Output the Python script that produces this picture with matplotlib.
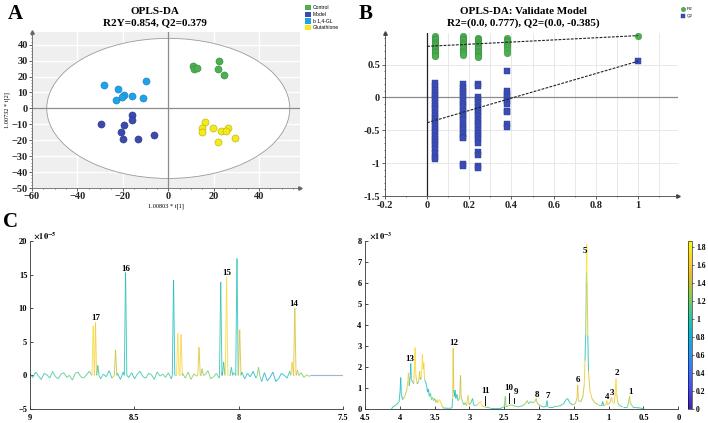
import numpy as np
import matplotlib
matplotlib.use('Agg')
import matplotlib.pyplot as plt
from matplotlib.collections import LineCollection
from matplotlib.colors import LinearSegmentedColormap, Normalize
from matplotlib.patches import Ellipse, Rectangle
from matplotlib.lines import Line2D
import matplotlib.cm as cm

plt.rcParams['font.family'] = ['Liberation Serif', 'DejaVu Serif']
plt.rcParams['font.weight'] = 'bold'
plt.rcParams['mathtext.fontset'] = 'stix'

# ---------------- Panel A data (OPLS-DA scores) ----------------
groups = ['Control', 'Model', 'b 1,4-GL', 'Glutathione']
group_colors = ['#4caf50', '#3a4aad', '#1ea2e8', '#f2ea1a']
group_edges = ['#3a8a3d', '#2a3585', '#1680b8', '#b8ae10']
control_t1 = [11, 11.5, 12.5, 22.5, 22, 24.5]
control_t2 = [26.5, 25, 25.5, 29.5, 24.5, 21]
model_t1 = [-29.5, -16, -16, -19.5, -21, -20, -13.5, -6.5]
model_t2 = [-9.5, -4, -7.5, -10.5, -15, -19.5, -19, -17]
gl_t1 = [-28.5, -22, -19.5, -20.5, -23, -16, -11, -10]
gl_t2 = [14.5, 12.5, 8.5, 7, 5.5, 7.5, 6.5, 17.5]
glu_t1 = [16, 15, 15, 19.5, 23, 26.5, 25.5, 22, 29.5]
glu_t2 = [-8.5, -12, -15, -12.5, -14.5, -12, -14.5, -21, -18.5]
ellipse_t1, ellipse_t2 = 53.5, 44.0

# ---------------- Panel B data (permutation test) ----------------
perm_x = [0.035, 0.17, 0.24, 0.38]
r2_perm = [
    [0.93, 0.91, 0.89, 0.87, 0.85, 0.83, 0.81, 0.79, 0.77, 0.75, 0.73, 0.71, 0.69, 0.67, 0.65, 0.63],
    [0.93, 0.91, 0.89, 0.87, 0.85, 0.83, 0.81, 0.79, 0.77, 0.75, 0.73, 0.71, 0.69, 0.67, 0.65],
    [0.91, 0.89, 0.87, 0.85, 0.83, 0.81, 0.79, 0.77, 0.75, 0.73, 0.71, 0.69, 0.67, 0.65, 0.63, 0.61],
    [0.90, 0.88, 0.86, 0.84, 0.82, 0.80, 0.76, 0.72, 0.68],
]
q2_perm = [
    [0.22, 0.17, 0.12, 0.07, 0.02, -0.03, -0.08, -0.13, -0.18, -0.23, -0.28, -0.33, -0.38, -0.43,
     -0.48, -0.53, -0.58, -0.63, -0.68, -0.73, -0.78, -0.85, -0.9, -0.93],
    [0.2, 0.15, 0.1, 0.05, 0.0, -0.05, -0.1, -0.15, -0.2, -0.25, -0.3, -0.35, -0.4, -0.45, -0.5,
     -0.55, -0.6, -0.62, -1.01, -1.05],
    [0.2, 0.17, 0.01, -0.04, -0.09, -0.14, -0.19, -0.24, -0.29, -0.34, -0.39, -0.44, -0.49, -0.54,
     -0.59, -0.64, -0.7, -0.83, -0.88, -1.05, -1.08],
    [0.4, 0.1, 0.05, 0.0, -0.05, -0.1, -0.2, -0.22, -0.4, -0.45],
]
r2_orig, q2_orig = 0.94, 0.55
r2_intercept, q2_intercept = 0.777, -0.385

# ---------------- Panel C data (colored loading spectra) ----------------
left_noise = [0.2, -0.3, 0.5, -0.1, -0.6, 0.3, 0.1, -0.4, 0.6, -0.2,
              -0.5, 0.2, 0.4, -0.3, 0.0, -0.7, 0.3, 0.5, -0.2, -0.4,
              0.1, 0.6, -0.3, -0.1, 0.4, -0.5, 0.2, -0.2, 0.7, -0.4,
              -0.1, 0.3, -0.6, 0.5, 0.0, -0.3, 0.4, -0.5, 0.2, 0.6,
              -0.2, -0.4, 0.3, 0.1, -0.6, 0.5, -0.1, 0.2, -0.3, 0.4,
              -0.5, 0.6, -0.2, 0.0, 0.3, -0.4, 0.5, -0.6, 0.2, -0.1,
              0.4, -0.3, 0.1, 0.7, -0.5, -0.2, 0.3, -0.4, 0.5, 0.0,
              -0.6, 0.2, 0.4, -0.3, -0.1, 0.5, -0.5, 0.3, -0.2, 0.6,
              -0.4, 0.1, -0.9, 0.4, -0.8, -0.3, 0.5, -0.9, -0.5, 0.3,
              0.0, -0.4, 0.6, -0.2, 0.2, -0.6, 0.4, -0.3, 0.1, -0.2]
left_noise_c_ppm = [9.0, 8.8, 8.6, 8.4, 8.2, 8.0, 7.85, 7.75, 7.66]
left_noise_c = [0.95, 1.15, 0.95, 1.05, 1.3, 1.0, 0.7, 0.95, 1.4]
left_peak_ppm = [8.697, 8.686, 8.675, 8.590, 8.542, 8.312, 8.292, 8.276, 8.190, 8.175,
                 8.086, 8.072, 8.058, 8.035, 8.008, 7.995, 7.905, 7.744, 7.731, 7.718]
left_peak_h = [7.4, 7.9, 1.5, 3.8, 15.3, 14.2, 6.3, 6.1, 4.2, 1.0,
               13.9, 2.0, 14.6, 1.2, 17.4, 6.8, 1.2, 2.0, 10.0, 0.8]
left_peak_c = [1.7, 1.6, 1.0, 1.4, 0.95, 0.9, 1.7, 1.65, 1.5, 1.3,
               0.95, 1.0, 1.7, 1.0, 0.95, 1.45, 1.2, 1.6, 1.45, 1.4]
left_labels = ['17', '16', '15', '14']
left_label_ppm = [8.684, 8.540, 8.058, 7.735]
left_label_y = [8.5, 15.8, 15.3, 10.6]

right_ppm = [4.12, 4.10, 4.05, 4.01, 3.995, 3.987, 3.978, 3.96, 3.93, 3.90, 3.885, 3.877, 3.865,
             3.85, 3.843, 3.835, 3.80, 3.79, 3.78, 3.77, 3.75, 3.73, 3.715, 3.705, 3.69, 3.675,
             3.665, 3.655, 3.645, 3.63, 3.615, 3.60, 3.59, 3.575, 3.56, 3.545, 3.53, 3.515, 3.50,
             3.48, 3.465, 3.45, 3.43, 3.415, 3.40, 3.38, 3.30, 3.25, 3.24, 3.233, 3.226, 3.215,
             3.207, 3.195, 3.18, 3.165, 3.14, 3.128, 3.12, 3.10, 3.08, 3.06, 3.04, 3.02, 3.005,
             2.98, 2.955, 2.94, 2.92, 2.89, 2.86, 2.84, 2.82, 2.78, 2.70, 2.55, 2.50, 2.485, 2.475,
             2.44, 2.40, 2.36, 2.30, 2.24, 2.20, 2.17, 2.15, 2.12, 2.09, 2.06, 2.04, 2.03, 2.00,
             1.95, 1.90, 1.885, 1.875, 1.80, 1.70, 1.65, 1.61, 1.59, 1.56, 1.52, 1.48, 1.455,
             1.445, 1.435, 1.40, 1.37, 1.35, 1.34, 1.33, 1.32, 1.315, 1.31, 1.30, 1.29, 1.27,
             1.24, 1.20, 1.15, 1.10, 1.085, 1.075, 1.04, 1.027, 1.015, 0.98, 0.965, 0.955, 0.945,
             0.92, 0.905, 0.895, 0.885, 0.87, 0.84, 0.80, 0.73, 0.71, 0.70, 0.69, 0.65, 0.55, 0.49]
right_int = [0.0, 0.1, 0.2, 0.35, 0.9, 1.5, 0.7, 0.45, 0.6, 0.9, 1.3, 1.72, 1.1,
             1.6, 2.17, 1.4, 1.2, 1.9, 2.92, 1.6, 1.2, 1.3, 1.8, 1.4, 1.5, 2.6,
             1.9, 2.2, 1.4, 1.3, 1.1, 0.8, 0.95, 0.6, 0.75, 0.45, 0.55, 0.4, 0.5,
             0.3, 0.45, 0.3, 0.45, 0.35, 0.2, 0.05, 0.03, 0.05, 0.5, 2.9, 0.9, 0.6,
             0.9, 0.5, 0.7, 0.4, 0.5, 1.6, 0.6, 0.35, 0.2, 0.3, 0.15, 0.65, 0.2,
             0.3, 0.5, 0.2, 0.15, 0.2, 0.3, 0.35, 0.15, 0.1, 0.05, 0.05, 0.1, 0.6, 0.1,
             0.15, 0.2, 0.15, 0.1, 0.15, 0.25, 0.4, 0.25, 0.35, 0.3, 0.35, 0.5, 0.3, 0.2,
             0.1, 0.12, 0.4, 0.1, 0.1, 0.15, 0.25, 0.45, 0.5, 0.3, 0.2, 0.25, 0.5,
             1.15, 0.4, 0.35, 0.6, 1.2, 2.3, 3.6, 6.5, 7.85, 6.0, 3.5, 1.8, 0.9,
             0.5, 0.3, 0.2, 0.2, 0.35, 0.15, 0.2, 0.4, 0.2, 0.3, 0.5, 0.55, 0.3,
             0.3, 0.8, 1.45, 0.7, 0.3, 0.15, 0.1, 0.1, 0.4, 0.6, 0.3, 0.08, 0.05, 0.0]
right_c = [0.9, 0.9, 1.0, 1.0, 0.95, 0.9, 0.95, 1.1, 1.2, 1.4, 1.5, 1.6, 1.2,
           0.95, 0.9, 1.0, 1.4, 1.6, 1.7, 1.5, 1.3, 1.0, 1.5, 1.3, 1.0, 1.7,
           1.5, 1.6, 1.0, 0.9, 0.9, 0.95, 0.9, 1.0, 1.1, 1.0, 1.2, 1.3, 1.2,
           1.4, 1.6, 1.6, 1.7, 1.6, 1.5, 1.0, 1.0, 1.0, 1.0, 1.5, 0.9, 0.95,
           0.9, 1.0, 1.0, 1.1, 1.2, 1.4, 1.3, 1.1, 1.0, 1.2, 1.0, 1.6, 1.4,
           1.1, 1.0, 1.0, 1.1, 1.3, 1.6, 1.7, 1.5, 1.2, 1.0, 1.0, 1.1, 1.2, 1.1,
           1.2, 1.3, 1.2, 1.0, 1.1, 1.2, 1.3, 1.2, 1.1, 1.2, 1.3, 1.4, 1.3, 1.1,
           1.0, 1.0, 1.0, 1.0, 1.0, 1.1, 1.1, 1.0, 0.95, 1.0, 1.1, 1.2, 1.4,
           1.5, 1.3, 1.2, 1.3, 1.4, 1.6, 1.0, 1.2, 1.75, 1.5, 0.95, 1.5, 1.6,
           1.4, 1.3, 1.2, 1.0, 0.8, 1.0, 1.4, 1.6, 1.4, 1.4, 1.5, 1.6, 1.4,
           1.2, 1.5, 1.7, 1.5, 1.2, 1.1, 1.0, 1.1, 1.3, 1.4, 1.3, 1.0, 1.0, 1.0]
right_labels = ['13', '12', '11', '10', '9', '8', '7', '6', '5', '4', '3', '2', '1']
right_label_ppm = [3.853, 3.231, 2.776, 2.441, 2.33, 2.024, 1.88, 1.444, 1.339, 1.027, 0.947, 0.884, 0.693]
right_label_y = [2.38, 3.13, 0.87, 1.02, 0.79, 0.67, 0.63, 1.38, 7.52, 0.59, 0.75, 1.7, 0.82]
bar_ppm = [2.776, 2.43, 2.36]
bar_lo = [0.2, 0.27, 0.27]
bar_hi = [0.6, 0.75, 0.51]

# parula-like colormap
parula_pts = [(0.2422, 0.1504, 0.6603), (0.2803, 0.2782, 0.9221), (0.2440, 0.4358, 0.9988),
              (0.1540, 0.5902, 0.9218), (0.0297, 0.7082, 0.8163), (0.1938, 0.7758, 0.6251),
              (0.5044, 0.7993, 0.3480), (0.8634, 0.7406, 0.1596), (0.9892, 0.8136, 0.1885),
              (0.9769, 0.9839, 0.0805)]
parula = LinearSegmentedColormap.from_list('parula', parula_pts)
cnorm = Normalize(vmin=0, vmax=1.87)

W, H = 708, 423
fig = plt.figure(figsize=(W / 100, H / 100), dpi=100)


def frac(x0, y0, x1, y1):
    return [x0 / W, 1 - y1 / H, (x1 - x0) / W, (y1 - y0) / H]


# ================= Panel A =================
axA = fig.add_axes(frac(32, 32, 300, 188))
axA.set_facecolor('#efefef')
axA.set_xlim(-60, 58)
axA.set_ylim(-50, 48)
for gx in [-40, -20, 20, 40]:
    axA.axvline(gx, color='white', lw=0.9, zorder=0.5)
for gy in range(-40, 50, 10):
    axA.axhline(gy, color='white', lw=0.9, zorder=0.5)
axA.add_patch(Ellipse((0, 0), 2 * ellipse_t1, 2 * ellipse_t2, facecolor='white',
                      edgecolor='#9a9a9a', lw=0.6, zorder=1))
axA.axhline(0, color='#8c8c8c', lw=0.9, zorder=2)
axA.axvline(0, color='#8c8c8c', lw=0.9, zorder=2)
for (t1, t2), fc, ec in zip([(control_t1, control_t2), (model_t1, model_t2), (gl_t1, gl_t2),
                             (glu_t1, glu_t2)], group_colors, group_edges):
    axA.scatter(t1, t2, s=26, c=fc, edgecolors=ec, linewidths=0.4, zorder=3)
axA.set_xticks(range(-60, 41, 20))
axA.set_yticks(range(-50, 41, 10))
axA.set_xticks(range(-60, 58, 5), minor=True)
axA.set_yticks(range(-50, 48, 2), minor=True)
axA.tick_params(axis='both', labelsize=7.5, length=2, width=0.5, pad=1, colors='#222')
axA.tick_params(which='minor', length=1, width=0.4)
for s in ['top', 'right']:
    axA.spines[s].set_visible(False)
for s in ['left', 'bottom']:
    axA.spines[s].set_color('#666')
    axA.spines[s].set_linewidth(0.6)
axA.plot(0, 1, marker='^', color='#666', ms=2.5, transform=axA.transAxes, clip_on=False)
axA.plot(1, 0, marker='>', color='#666', ms=2.5, transform=axA.transAxes, clip_on=False)
axA.set_xlabel('1.00803 * t[1]', fontsize=4.5, labelpad=2)
axA.set_ylabel('1.00732 * t[2]', fontsize=4.5, labelpad=1)
fig.text(155 / W, 1 - 11 / H, 'OPLS-DA', ha='center', va='center', fontsize=8)
fig.text(155 / W, 1 - 23 / H, 'R2Y=0.854, Q2=0.379', ha='center', va='center', fontsize=8)
# legend A
for i, (g, fc) in enumerate(zip(groups, group_colors)):
    yc = 7.5 + i * 6.8
    fig.add_artist(Rectangle((305 / W, 1 - (yc + 2.6) / H), 5.5 / W, 5.2 / H,
                             facecolor=fc, edgecolor='none', transform=fig.transFigure))
    fig.text(313 / W, 1 - yc / H, g, fontsize=3.6, va='center', ha='left',
             family=['Liberation Sans', 'DejaVu Sans'], weight='normal')

# ================= Panel B =================
axB = fig.add_axes(frac(385, 33, 678, 196))
axB.set_xlim(-0.2, 1.19)
axB.set_ylim(-1.5, 0.98)
for gx in np.arange(0.1, 1.15, 0.1):
    axB.axvline(gx, color='#e4e4e4', lw=0.6, zorder=0.5)
for gy in [0.5, -0.5, -1.0]:
    axB.axhline(gy, color='#e4e4e4', lw=0.6, zorder=0.5)
axB.axhline(0, color='#8c8c8c', lw=0.9, zorder=1)
axB.axvline(0, color='#222', lw=0.9, zorder=1)
for xv, r2c, q2c in zip(perm_x, r2_perm, q2_perm):
    axB.plot([xv] * len(q2c), q2c, ls='none', marker='s', ms=4.2, mfc='#3b4db4',
             mec='#2c3a90', mew=0.3, zorder=3)
    axB.plot([xv] * len(r2c), r2c, ls='none', marker='o', ms=4.8, mfc='#4cb050',
             mec='#389040', mew=0.3, zorder=3)
axB.plot([1], [q2_orig], ls='none', marker='s', ms=4.2, mfc='#3b4db4', mec='#2c3a90', mew=0.3, zorder=3)
axB.plot([1], [r2_orig], ls='none', marker='o', ms=4.8, mfc='#4cb050', mec='#389040', mew=0.3, zorder=3)
axB.plot([0, 1], [r2_intercept, r2_orig], color='#222', lw=0.8, dashes=(2.5, 1.2), zorder=4)
axB.plot([0, 1], [q2_intercept, q2_orig], color='#222', lw=0.8, dashes=(2.5, 1.2), zorder=4)
axB.set_xticks([-0.2, 0, 0.2, 0.4, 0.6, 0.8, 1])
axB.set_xticklabels(['-0.2', '0', '0.2', '0.4', '0.6', '0.8', '1'])
axB.set_yticks([-1.5, -1, -0.5, 0, 0.5])
axB.set_yticklabels(['-1.5', '-1', '-0.5', '0', '0.5'])
axB.set_xticks(np.arange(-0.2, 1.15, 0.1), minor=True)
axB.set_yticks(np.arange(-1.5, 0.95, 0.1), minor=True)
axB.tick_params(axis='both', labelsize=7.5, length=2, width=0.5, pad=1.5, colors='#222')
axB.tick_params(which='minor', length=1, width=0.4)
for s in ['top', 'right']:
    axB.spines[s].set_visible(False)
for s in ['left', 'bottom']:
    axB.spines[s].set_color('#444')
    axB.spines[s].set_linewidth(0.6)
axB.plot(0, 1, marker='^', color='#444', ms=2.5, transform=axB.transAxes, clip_on=False)
axB.plot(1, 0, marker='>', color='#444', ms=2.5, transform=axB.transAxes, clip_on=False)
fig.text(523 / W, 1 - 11 / H, 'OPLS-DA: Validate Model', ha='center', va='center', fontsize=8)
fig.text(523 / W, 1 - 23 / H, 'R2=(0.0, 0.777), Q2=(0.0, -0.385)', ha='center', va='center', fontsize=8)
# legend B
fig.add_artist(Line2D([683 / W], [1 - 9.5 / H], marker='o', ms=3.2, mfc='#4cb050', mec='#389040',
                      mew=0.3, ls='none', transform=fig.transFigure))
fig.add_artist(Line2D([683 / W], [1 - 16.5 / H], marker='s', ms=3.0, mfc='#3b4db4', mec='#2c3a90',
                      mew=0.3, ls='none', transform=fig.transFigure))
fig.text(687 / W, 1 - 9.5 / H, 'R2', fontsize=3.2, va='center', family=['Liberation Sans'], weight='normal')
fig.text(687 / W, 1 - 16.5 / H, 'Q2', fontsize=3.2, va='center', family=['Liberation Sans'], weight='normal')


# ================= Panel C =================
def colored_line(ax, ppm, inten, cval, lw=0.7):
    ppm = np.asarray(ppm, float)
    inten = np.asarray(inten, float)
    cval = np.asarray(cval, float)
    pts = np.column_stack([ppm, inten])
    segs = np.stack([pts[:-1], pts[1:]], axis=1)
    seg_c = np.where(inten[:-1] >= inten[1:], cval[:-1], cval[1:])
    lc = LineCollection(segs, cmap=parula, norm=cnorm, linewidths=lw, alpha=0.8)
    lc.set_array(seg_c)
    ax.add_collection(lc)


def style_c(ax):
    for s in ['top', 'right']:
        ax.spines[s].set_visible(False)
    for s in ['left', 'bottom']:
        ax.spines[s].set_color('#333')
        ax.spines[s].set_linewidth(0.6)
    ax.tick_params(axis='both', labelsize=6, length=2.5, width=0.5, direction='in', pad=2)
    ax.tick_params(axis='x', pad=3.5)


# left spectrum
axL = fig.add_axes(frac(30, 241, 343, 409))
axL.set_xlim(9, 7.5)
axL.set_ylim(-5, 20)
hw = 0.006
base_ppm = np.linspace(9.0, 7.66, len(left_noise))
keep = np.ones(len(base_ppm), bool)
for p in left_peak_ppm:
    keep &= np.abs(base_ppm - p) > hw
base_c = np.interp(base_ppm[::-1], left_noise_c_ppm[::-1], left_noise_c[::-1])[::-1]
all_ppm = list(base_ppm[keep])
all_int = list(np.asarray(left_noise)[keep])
all_c = list(base_c[keep])
for p, h, c in zip(left_peak_ppm, left_peak_h, left_peak_c):
    all_ppm += [p + hw, p, p - hw]
    all_int += [0.0, h, 0.0]
    all_c += [c, c, c]
order = np.argsort(all_ppm)[::-1]
axL.plot([7.66, 7.5], [0, 0], color='#a2b6d4', lw=0.8)
colored_line(axL, np.array(all_ppm)[order], np.array(all_int)[order], np.array(all_c)[order])
for lab, p, yv in zip(left_labels, left_label_ppm, left_label_y):
    axL.text(p, yv, lab, ha='center', va='center', fontsize=6.5)
axL.set_xticks([9, 8.5, 8, 7.5])
axL.set_xticklabels(['9', '8.5', '8', '7.5'])
axL.set_yticks([-5, 0, 5, 10, 15, 20])
style_c(axL)
axL.text(0.008, 1.0, r'$\times10^{-5}$', transform=axL.transAxes, fontsize=6, ha='left', va='bottom')

# right spectrum
axR = fig.add_axes(frac(365, 241, 678.3, 409))
axR.set_xlim(4.5, 0)
axR.set_ylim(0, 8)
colored_line(axR, right_ppm, right_int, right_c, lw=0.75)
for p, lo, hi in zip(bar_ppm, bar_lo, bar_hi):
    axR.plot([p, p], [lo, hi], color='#111', lw=0.7)
for lab, p, yv in zip(right_labels, right_label_ppm, right_label_y):
    axR.text(p, yv, lab, ha='center', va='center', fontsize=6.5)
axR.set_xticks([4.5, 4, 3.5, 3, 2.5, 2, 1.5, 1, 0.5, 0])
axR.set_xticklabels(['4.5', '4', '3.5', '3', '2.5', '2', '1.5', '1', '0.5', '0'])
axR.set_yticks(range(0, 9))
style_c(axR)
axR.tick_params(axis='y', pad=2.5)
axR.text(0.012, 1.0, r'$\times10^{-3}$', transform=axR.transAxes, fontsize=6, ha='left', va='bottom')

# colorbar
cax = fig.add_axes(frac(688, 241, 692, 409))
cb = fig.colorbar(cm.ScalarMappable(norm=cnorm, cmap=parula), cax=cax)
cb.set_ticks([0, 0.2, 0.4, 0.6, 0.8, 1.0, 1.2, 1.4, 1.6, 1.8])
cb.set_ticklabels(['0', '0.2', '0.4', '0.6', '0.8', '1', '1.2', '1.4', '1.6', '1.8'])
cb.ax.tick_params(labelsize=5.5, length=1.5, width=0.4, pad=1.5)
cb.outline.set_linewidth(0.4)

# panel letters
fig.text(15 / W, 1 - 14 / H, 'A', ha='center', va='center', fontsize=15)
fig.text(366 / W, 1 - 14 / H, 'B', ha='center', va='center', fontsize=15)
fig.text(11 / W, 1 - 222 / H, 'C', ha='center', va='center', fontsize=15)

fig.savefig('out.png', dpi=100)
